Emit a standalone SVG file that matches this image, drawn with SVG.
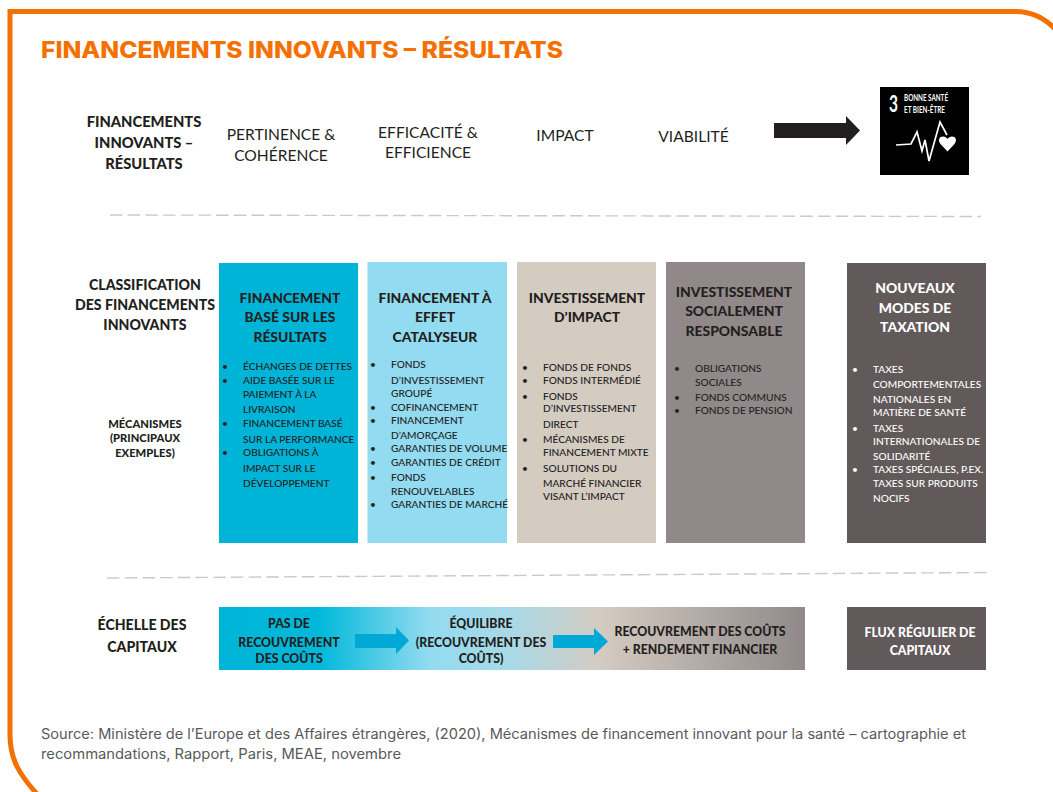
<svg xmlns="http://www.w3.org/2000/svg" width="1053" height="792" viewBox="0 0 1053 792">
<style>
text{font-family:"Lato","Open Sans","Liberation Sans",sans-serif;fill:#231f20}
.h{font-size:13.9px;font-weight:900;text-anchor:middle}
.l{font-size:14.1px;font-weight:900;text-anchor:middle}
.top{font-size:14.7px;font-weight:900;text-anchor:middle}
.t{font-size:15.6px;text-anchor:middle}
.b{font-size:10.15px;font-weight:500;fill:#222}
.m{font-size:11.2px;font-weight:900;text-anchor:middle}
.s{font-size:12.3px;font-weight:900;text-anchor:middle}
text.w{fill:#fff}
.src{font-family:"Inter","Noto Sans",sans-serif;font-size:14px;fill:#58595b}
.dash{fill:none;stroke:#c9c9c9;stroke-width:1.4;stroke-dasharray:12.5 5.2}
.arrow{fill:#00a8d6}
</style>
<defs>
<linearGradient id="scale" x1="0" x2="1" y1="0" y2="0">
<stop offset="0" stop-color="#00b4d8"/>
<stop offset="0.17" stop-color="#00b9da"/>
<stop offset="0.36" stop-color="#93dbf0"/>
<stop offset="0.5" stop-color="#a9d9e6"/>
<stop offset="0.65" stop-color="#d4cbc1"/>
<stop offset="1" stop-color="#918989"/>
</linearGradient>
</defs>
<rect width="1053" height="792" fill="#fff"/>
<path id="frame" d="M37 794C20 775 10 760 10 735V11.500H1015C1032 11.500 1045 18 1056 30" fill="none" stroke="#f47000" stroke-width="5"/>
<text id="title" x="41" y="57.500" textLength="522" lengthAdjust="spacingAndGlyphs" style="font-family:'Inter','Noto Sans',sans-serif;font-size:23px;font-weight:800;fill:#f47000">FINANCEMENTS INNOVANTS – RÉSULTATS</text>

<g id="row-header">
<text class="top" x="144" y="127">FINANCEMENTS</text><text class="top" x="144" y="148">INNOVANTS –</text><text class="top" x="144" y="169">RÉSULTATS</text>
</g>
<g id="criteria">
<text class="t" x="281" y="140">PERTINENCE &amp;</text><text class="t" x="281" y="161">COHÉRENCE</text>
<text class="t" x="428" y="138">EFFICACITÉ &amp;</text><text class="t" x="428" y="158">EFFICIENCE</text>
<text class="t" x="565" y="141">IMPACT</text>
<text class="t" x="693.500" y="142">VIABILITÉ</text>
</g>
<g id="sdg3">
<rect x="880" y="87" width="89" height="88" fill="#000"/>
<text x="889" y="112" textLength="9" lengthAdjust="spacingAndGlyphs" class="w" style="font-size:23px;font-weight:700">3</text>
<text x="904" y="101" textLength="44" lengthAdjust="spacingAndGlyphs" class="w" style="font-size:10px;font-weight:700">BONNE SANTÉ</text>
<text x="904" y="113" textLength="41" lengthAdjust="spacingAndGlyphs" class="w" style="font-size:10px;font-weight:700">ET BIEN-ÊTRE</text>
<polyline points="896,145 911,144 917,132 922,151 925,140 929,161 940,122 947,135" fill="none" stroke="#fff" stroke-width="1.7"/>
<path d="M947.500 151.500L940.500 144C937.500 140 939.500 136.500 943 136.500C945 136.500 946.500 137.500 947.500 139C948.500 137.500 950 136.500 952 136.500C955.500 136.500 957.500 140 954.500 144Z" fill="#fff"/>
</g>

<g id="left-labels">
<text class="l" x="145" y="290">CLASSIFICATION</text><text class="l" x="145" y="310">DES FINANCEMENTS</text><text class="l" x="145" y="329.500">INNOVANTS</text>
<text class="m" x="145" y="427.500">MÉCANISMES</text><text class="m" x="145" y="442">(PRINCIPAUX</text><text class="m" x="145" y="457">EXEMPLES)</text>
<text class="l" x="142" y="630">ÉCHELLE DES</text><text class="l" x="142" y="651.500">CAPITAUX</text>
</g>

<g id="col-resultats">
<rect x="219" y="263" width="139" height="280" fill="#00b4d8"/>
<text class="h" x="290" y="302.500">FINANCEMENT</text><text class="h" x="290" y="321.500">BASÉ SUR LES</text><text class="h" x="290" y="341.500">RÉSULTATS</text>
<text class="b" x="222" y="370">•</text><text class="b" x="243" y="370">ÉCHANGES DE DETTES</text>
<text class="b" x="222" y="384">•</text><text class="b" x="243" y="384">AIDE BASÉE SUR LE</text>
<text class="b" x="243" y="398">PAIEMENT À LA</text>
<text class="b" x="243" y="413">LIVRAISON</text>
<text class="b" x="222" y="427">•</text><text class="b" x="243" y="427">FINANCEMENT BASÉ</text>
<text class="b" x="243" y="443">SUR LA PERFORMANCE</text>
<text class="b" x="222" y="456">•</text><text class="b" x="243" y="456">OBLIGATIONS À</text>
<text class="b" x="243" y="472">IMPACT SUR LE</text>
<text class="b" x="243" y="487">DÉVELOPPEMENT</text>
</g>

<g id="col-catalyseur">
<rect x="367.500" y="262" width="139.500" height="281" fill="#92dbf0"/>
<text class="h" x="435" y="302.500">FINANCEMENT À</text><text class="h" x="435" y="321.500">EFFET</text><text class="h" x="435" y="341.500">CATALYSEUR</text>
<text class="b" x="370" y="368">•</text><text class="b" x="391" y="368">FONDS</text>
<text class="b" x="391" y="384">D’INVESTISSEMENT</text>
<text class="b" x="391" y="397">GROUPÉ</text>
<text class="b" x="370" y="411">•</text><text class="b" x="391" y="411">COFINANCEMENT</text>
<text class="b" x="370" y="424">•</text><text class="b" x="391" y="424">FINANCEMENT</text>
<text class="b" x="391" y="439">D’AMORÇAGE</text>
<text class="b" x="370" y="452">•</text><text class="b" x="391" y="452">GARANTIES DE VOLUME</text>
<text class="b" x="370" y="466">•</text><text class="b" x="391" y="466">GARANTIES DE CRÉDIT</text>
<text class="b" x="370" y="481">•</text><text class="b" x="391" y="481">FONDS</text>
<text class="b" x="391" y="495">RENOUVELABLES</text>
<text class="b" x="370" y="508">•</text><text class="b" x="391" y="508">GARANTIES DE MARCHÉ</text>
</g>

<g id="col-impact">
<rect x="517" y="262" width="139" height="281" fill="#d4cbc1"/>
<text class="h" x="587" y="302.500">INVESTISSEMENT</text><text class="h" x="587" y="321.500">D’IMPACT</text>
<text class="b" x="522" y="371">•</text><text class="b" x="543" y="371">FONDS DE FONDS</text>
<text class="b" x="522" y="384">•</text><text class="b" x="543" y="384">FONDS INTERMÉDIÉ</text>
<text class="b" x="522" y="400">•</text><text class="b" x="543" y="400">FONDS</text>
<text class="b" x="543" y="412">D’INVESTISSEMENT</text>
<text class="b" x="543" y="428">DIRECT</text>
<text class="b" x="522" y="443">•</text><text class="b" x="543" y="443">MÉCANISMES DE</text>
<text class="b" x="543" y="456">FINANCEMENT MIXTE</text>
<text class="b" x="522" y="472">•</text><text class="b" x="543" y="472">SOLUTIONS DU</text>
<text class="b" x="543" y="487">MARCHÉ FINANCIER</text>
<text class="b" x="543" y="500">VISANT L’IMPACT</text>
</g>

<g id="col-isr">
<rect x="666" y="262" width="139" height="281" fill="#918989"/>
<text class="h" x="734" y="297">INVESTISSEMENT</text><text class="h" x="734" y="316">SOCIALEMENT</text><text class="h" x="734" y="336">RESPONSABLE</text>
<text class="b" x="674" y="372">•</text><text class="b" x="695" y="372">OBLIGATIONS</text>
<text class="b" x="695" y="386">SOCIALES</text>
<text class="b" x="674" y="401">•</text><text class="b" x="695" y="401">FONDS COMMUNS</text>
<text class="b" x="674" y="414">•</text><text class="b" x="695" y="414">FONDS DE PENSION</text>
</g>

<g id="col-taxation">
<rect x="847" y="263" width="139" height="280" fill="#625a5a"/>
<text class="h w" x="915" y="293">NOUVEAUX</text><text class="h w" x="915" y="313">MODES DE</text><text class="h w" x="915" y="332">TAXATION</text>
<text class="b w" x="852" y="373">•</text><text class="b w" x="873" y="373">TAXES</text>
<text class="b w" x="873" y="388">COMPORTEMENTALES</text>
<text class="b w" x="873" y="403">NATIONALES EN</text>
<text class="b w" x="873" y="416">MATIÈRE DE SANTÉ</text>
<text class="b w" x="852" y="432">•</text><text class="b w" x="873" y="432">TAXES</text>
<text class="b w" x="873" y="445">INTERNATIONALES DE</text>
<text class="b w" x="873" y="460">SOLIDARITÉ</text>
<text class="b w" x="852" y="473">•</text><text class="b w" x="873" y="473">TAXES SPÉCIALES, P.EX.</text>
<text class="b w" x="873" y="487">TAXES SUR PRODUITS</text>
<text class="b w" x="873" y="502">NOCIFS</text>
</g>

<g id="scale-bar">
<rect x="219" y="607" width="586" height="63" fill="url(#scale)"/>
<text class="s" x="289" y="628">PAS DE</text><text class="s" x="289" y="646.500">RECOUVREMENT</text><text class="s" x="289" y="663">DES COÛTS</text>
<text class="s" x="481" y="628">ÉQUILIBRE</text><text class="s" x="481" y="646.500">(RECOUVREMENT DES</text><text class="s" x="481" y="663">COÛTS)</text>
<text class="s" x="700" y="636">RECOUVREMENT DES COÛTS</text><text class="s" x="700" y="654">+ RENDEMENT FINANCIER</text>
</g>

<g id="flux">
<rect x="847" y="607" width="139" height="63" fill="#625a5a"/>
<text class="s w" x="920" y="637">FLUX RÉGULIER DE</text><text class="s w" x="920" y="655">CAPITAUX</text>
</g>

<g id="connectors">
<path class="dash" d="M110 215L981 216.500"/>
<path class="dash" d="M107 578L988 572.500"/>
<path d="M774 123H846V116L860 130.500L846 145V138H774Z" fill="#231f20"/>
<path class="arrow" d="M355 634H396V627L409 640.500L396 654V648H355Z"/>
<path class="arrow" d="M553 635H594V628L608 641.500L594 655V648H553Z"/>
</g>

<g id="source">
<text class="src" x="41" y="739" textLength="925" lengthAdjust="spacingAndGlyphs">Source: Ministère de l’Europe et des Affaires étrangères, (2020), Mécanismes de financement innovant pour la santé – cartographie et</text>
<text class="src" x="41" y="759" textLength="360" lengthAdjust="spacingAndGlyphs">recommandations, Rapport, Paris, MEAE, novembre</text>
</g>
</svg>
